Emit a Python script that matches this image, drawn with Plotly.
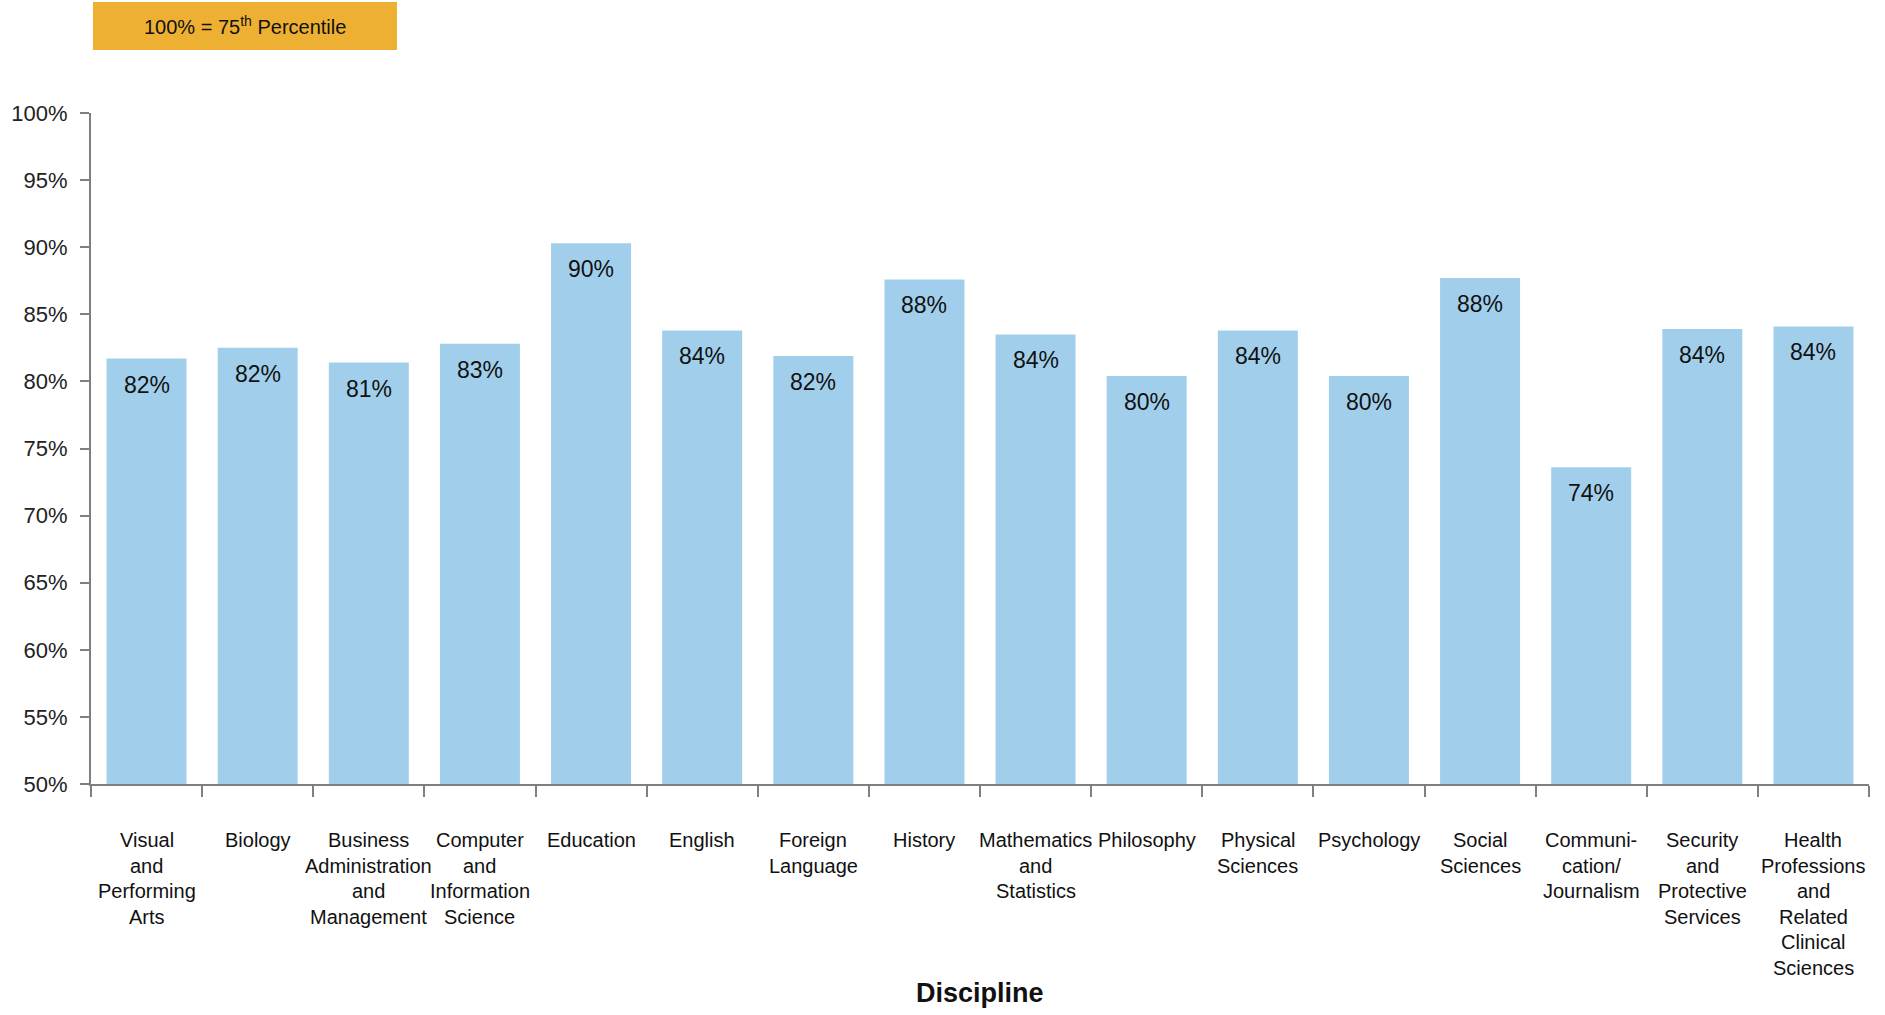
import plotly.graph_objects as go

# Discipline categories (multi-line labels split with <br>)
disciplines = [
    "Visual<br>and<br>Performing<br>Arts",
    "Biology",
    "Business<br>Administration<br>and<br>Management",
    "Computer<br>and<br>Information<br>Science",
    "Education",
    "English",
    "Foreign<br>Language",
    "History",
    "Mathematics<br>and<br>Statistics",
    "Philosophy",
    "Physical<br>Sciences",
    "Psychology",
    "Social<br>Sciences",
    "Communi-<br>cation/<br>Journalism",
    "Security<br>and<br>Protective<br>Services",
    "Health<br>Professions<br>and<br>Related<br>Clinical<br>Sciences",
]

# Percent of the 75th percentile reached by each discipline
pct_of_p75 = [81.7, 82.5, 81.4, 82.8, 90.3, 83.8, 81.9, 87.6,
              83.5, 80.4, 83.8, 80.4, 87.7, 73.6, 83.9, 84.1]

y_ticks = [50, 55, 60, 65, 70, 75, 80, 85, 90, 95, 100]

FONT = "Liberation Sans, Arial, sans-serif"
BAR_COLOR = "#A1CFEB"
BOX_COLOR = "#EEB033"
AXIS_COLOR = "#7F7F7F"
TEXT_COLOR = "#111111"

W, H = 1885, 1015
ML, MR, MT, MB = 91, 16, 113, 231
plot_w = W - ML - MR
plot_h = H - MT - MB

cat_ids = list(range(len(disciplines)))

fig = go.Figure(
    go.Bar(
        x=cat_ids,
        y=pct_of_p75,
        marker=dict(color=BAR_COLOR, line=dict(width=0)),
        width=0.72,
        hoverinfo="skip",
    )
)

annotations = []

# value labels near the top of each bar
for i, v in zip(cat_ids, pct_of_p75):
    annotations.append(dict(
        x=i, y=v, xref="x", yref="y",
        text=f"{round(v)}%", showarrow=False,
        yanchor="top", yshift=-11,
        font=dict(family=FONT, size=23, color=TEXT_COLOR),
    ))

# category labels, one line at a time for tight line spacing
LINE_STEP = 25.6
FIRST_LINE = 840
for i, label in zip(cat_ids, disciplines):
    for j, line in enumerate(label.split("<br>")):
        annotations.append(dict(
            x=i, y=0, xref="x", yref="paper",
            text=line, showarrow=False,
            yanchor="middle", yshift=-(FIRST_LINE - (H - MB)) - j * LINE_STEP,
            font=dict(family=FONT, size=20, color=TEXT_COLOR),
        ))

# axis title
annotations.append(dict(
    x=0.5, y=(H - MB - 993) / plot_h, xref="paper", yref="paper",
    text="<b>Discipline</b>", showarrow=False, yanchor="middle",
    font=dict(family=FONT, size=27, color=TEXT_COLOR),
))

# note box explaining the scale
annotations.append(dict(
    x=(245 - ML) / plot_w, y=(H - MB - 26) / plot_h, xref="paper", yref="paper",
    text="100% = 75<sup>th</sup> Percentile", showarrow=False,
    xanchor="center", yanchor="middle",
    font=dict(family=FONT, size=20, color=TEXT_COLOR),
))

shapes = [dict(
    type="rect", xref="paper", yref="paper",
    x0=(93 - ML) / plot_w, x1=(397 - ML) / plot_w,
    y0=(H - MB - 50) / plot_h, y1=(H - MB - 2) / plot_h,
    fillcolor=BOX_COLOR, line=dict(width=0), layer="above",
)]

fig.update_layout(
    width=W, height=H,
    margin=dict(l=ML, r=MR, t=MT, b=MB, pad=0, autoexpand=False),
    paper_bgcolor="white", plot_bgcolor="white",
    showlegend=False,
    font=dict(family=FONT, color=TEXT_COLOR),
    annotations=annotations,
    shapes=shapes,
    xaxis=dict(
        type="linear",
        range=[-0.5, len(disciplines) - 0.5],
        tickmode="array",
        tickvals=[k - 0.5 for k in range(len(disciplines) + 1)],
        showticklabels=False,
        ticks="outside", ticklen=11, tickwidth=2, tickcolor=AXIS_COLOR,
        showline=True, linecolor=AXIS_COLOR, linewidth=2,
        showgrid=False, zeroline=False, fixedrange=True,
        automargin=False,
    ),
    yaxis=dict(
        range=[50, 100],
        tickmode="array", tickvals=y_ticks,
        ticktext=[f"{t}%" for t in y_ticks],
        ticks="outside", ticklen=9, tickwidth=2, tickcolor=AXIS_COLOR,
        ticklabelstandoff=8,
        tickfont=dict(family=FONT, size=22, color="#222222"),
        showline=True, linecolor=AXIS_COLOR, linewidth=2,
        showgrid=False, zeroline=False, fixedrange=True,
        automargin=False,
    ),
)

fig.write_html("out.html", config={"displayModeBar": False})
